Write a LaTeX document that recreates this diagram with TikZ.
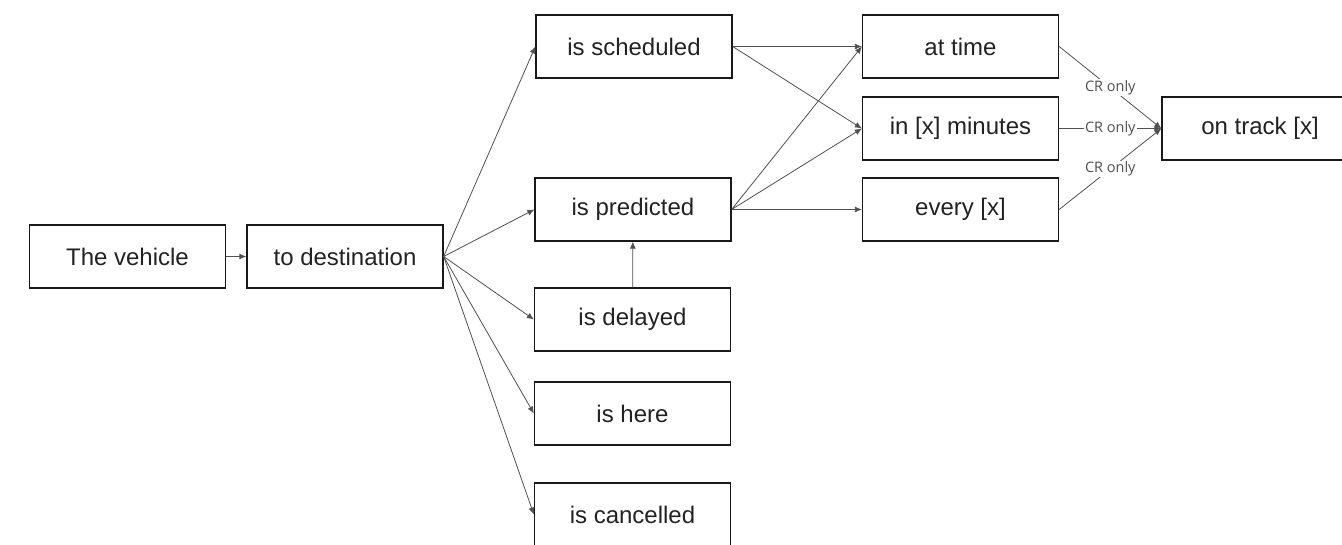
\documentclass[tikz,border=0pt]{standalone}
\usepackage{fontspec}
\setmainfont{Liberation Sans}
\newfontfamily\lblfont{Open Sans}
\usetikzlibrary{arrows.meta,positioning}
\definecolor{txtgray}{RGB}{34,34,34}
\definecolor{edgegray}{RGB}{80,80,80}

\begin{document}
\begin{tikzpicture}[
  x=1pt, y=-1pt,
  font=\fontsize{24}{28}\selectfont,
  box/.style={draw=black!90, line width=1.3pt, minimum width=196pt, minimum height=63pt, inner sep=0pt, text=txtgray},
  arrow/.style={-{Latex[length=7pt,width=6pt]}, line width=0.8pt, draw=edgegray},
  lbl/.style={fill=white, inner sep=1pt, text=edgegray, font=\lblfont\fontsize{14.5}{16}\selectfont}
]
\useasboundingbox (0,0) rectangle (1342,544);

% left part
\node[box] (veh) at (127.5,256.5) {The vehicle};
\node[box] (dest) at (345,256.5) {to destination};

% middle column
\node[box] (sched) at (634,46.5) {is scheduled};
\node[box] (pred) at (633,209.5) {is predicted};
\node[box] (delay) at (632.5,319.5) {is delayed};
\node[box] (here) at (632.5,413.5) {is here};
\node[box] (cancel) at (632.5,514.5) {is cancelled};

% time column
\node[box] (attime) at (960.5,46.5) {at time};
\node[box] (inmin) at (960.5,128.5) {in [x] minutes};
\node[box] (every) at (960.5,209.5) {every [x]};

\node[box] (track) at (1260,128.5) {on track [x]};

\draw[arrow] (veh) -- (dest);
\draw[arrow] (dest.east) -- (sched.west);
\draw[arrow] (dest.east) -- (pred.west);
\draw[arrow] (dest.east) -- (delay.west);
\draw[arrow] (dest.east) -- (here.west);
\draw[arrow] (dest.east) -- (cancel.west);
\draw[arrow] (delay) -- (pred);

\draw[arrow] (sched.east) -- (attime.west);
\draw[arrow] (sched.east) -- (inmin.west);
\draw[arrow] (pred.east) -- (attime.west);
\draw[arrow] (pred.east) -- (inmin.west);
\draw[arrow] (pred.east) -- (every.west);

\draw[arrow] (attime.east) -- node[lbl] {CR only} (track.west);
\draw[arrow] (inmin.east) -- node[lbl] {CR only} (track.west);
\draw[arrow] (every.east) -- node[lbl] {CR only} (track.west);

\end{tikzpicture}
\end{document}
